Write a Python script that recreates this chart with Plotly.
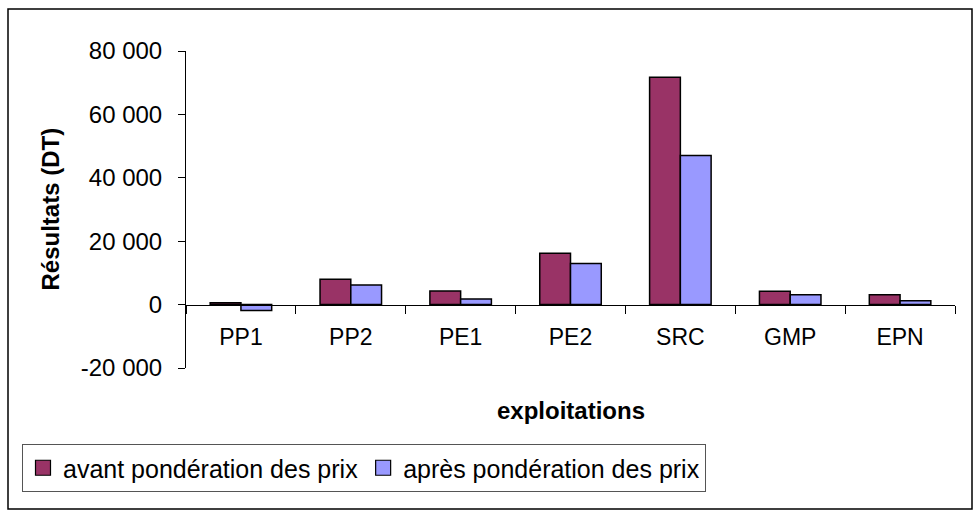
import plotly.graph_objects as go

categories = ["PP1", "PP2", "PE1", "PE2", "SRC", "GMP", "EPN"]
avant = [600, 8000, 4300, 16200, 71700, 4200, 3100]
apres = [-1900, 6200, 1800, 13000, 47000, 3100, 1200]
series_names = ["avant pondération des prix", "après pondération des prix"]
series_colors = ["#993366", "#9999FF"]
y_tickvals = [-20000, 0, 20000, 40000, 60000, 80000]
y_ticktext = ["-20 000", "0", "20 000", "40 000", "60 000", "80 000"]

W, H = 973, 511
L, R, T, B = 186, 18, 51, 143
pw, ph = W - L - R, H - T - B

def px(x):
    return (x - L) / pw

def py(y):
    return (H - B - y) / ph

FONT = "Liberation Sans, Arial, sans-serif"

fig = go.Figure()
for vals, name, col in zip([avant, apres], series_names, series_colors):
    fig.add_trace(go.Bar(x=categories, y=vals, name=name, showlegend=False,
                         marker=dict(color=col, line=dict(color="black", width=1.5))))
# legend swatches (larger squares, like the reference)
for name, col in zip(series_names, series_colors):
    fig.add_trace(go.Scatter(x=[None], y=[None], mode="markers", name=name,
                             marker=dict(symbol="square", size=15, color=col,
                                         line=dict(color="black", width=1.2))))

fig.update_layout(
    width=W, height=H,
    margin=dict(l=L, r=R, t=T, b=B, pad=0),
    paper_bgcolor="white", plot_bgcolor="white",
    barmode="group", bargap=0.44, bargroupgap=0,
    font=dict(family=FONT, size=23, color="black"),
    showlegend=True,
    legend=dict(orientation="h", x=px(22), xanchor="left", y=py(444), yanchor="top",
                bordercolor="#555555", borderwidth=1, font=dict(size=25),
                itemwidth=30, traceorder="normal", bgcolor="white",
                tracegroupgap=0),
    xaxis=dict(anchor="free", position=0.2, showline=True, linecolor="black", linewidth=1,
               ticks="outside", ticklen=8, tickcolor="black", tickson="boundaries",
               showgrid=False, zeroline=False, ticklabelstandoff=12,
               tickfont=dict(size=23)),
    yaxis=dict(range=[-20000, 80000], tickvals=y_tickvals, ticktext=y_ticktext,
               showline=True, linecolor="black", linewidth=1, ticks="outside", ticklen=7,
               tickcolor="black", showgrid=False, zeroline=False, ticklabelstandoff=11,
               tickfont=dict(size=24)),
    annotations=[
        dict(text="<b>Résultats (DT)</b>", textangle=-90, xref="paper", yref="paper",
             x=px(50), y=0.5, showarrow=False, font=dict(size=24), xanchor="center", yanchor="middle"),
        dict(text="<b>exploitations</b>", xref="paper", yref="paper",
             x=0.5, y=py(410), showarrow=False, font=dict(size=24), xanchor="center", yanchor="middle"),
    ],
    shapes=[
        dict(type="rect", xref="paper", yref="paper", x0=px(8), x1=px(972), y0=py(509), y1=py(9),
             line=dict(color="black", width=1.5), layer="below"),
    ],
)

fig.write_html("out.html", config={"displayModeBar": False},
               post_script="document.body.style.margin='0';")
